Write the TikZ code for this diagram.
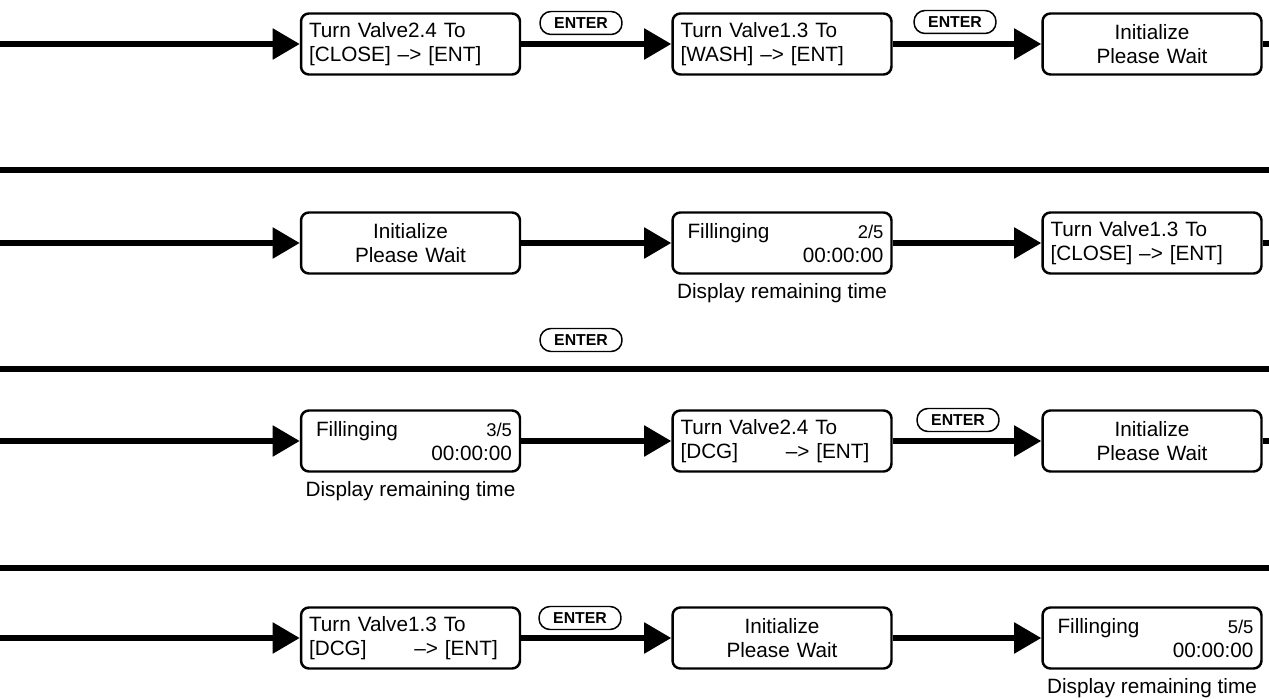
\documentclass[tikz,border=0pt]{standalone}
\usepackage{fontspec}
\setmainfont{Liberation Sans}
\usetikzlibrary{arrows.meta}

% two-line fill counter screen
\newcommand{\fillscr}[1]{\hspace*{0.14cm}Fillinging\hfill{\fontsize{10.5}{12}\selectfont #1}\hspace*{0.3cm}\\
  \hfill 00:00:00}

\begin{document}
\begin{tikzpicture}[x=0.02cm,y=-0.02cm,
  screen/.style={draw,line width=1.4pt,rounded corners=4.5pt,fill=white,
    minimum width=4.38cm,minimum height=1.22cm,text width=4.06cm,
    inner xsep=0.16cm,inner ysep=0pt,align=left,
    font=\fontsize{11.8}{13.8}\selectfont},
  midscreen/.style={screen,align=center},
  enterkey/.style={draw,line width=0.85pt,rounded corners=0.22cm,fill=white,
    minimum width=1.64cm,minimum height=0.46cm,inner sep=0pt,
    font=\bfseries\fontsize{9}{10}\selectfont},
  dispnote/.style={font=\fontsize{11.8}{14}\selectfont,inner sep=1pt,label distance=3.5pt},
  flowarrow/.style={line width=3.2pt,-{Triangle[length=15.4pt,width=17pt]}},
  flowline/.style={line width=3.2pt},
  sepline/.style={line width=3.2pt}]
  \useasboundingbox (0,0) rectangle (1269,699);
  % return lines between rows
  \foreach \y in {170,369,568}
    \draw[sepline] (0,\y) -- (1269,\y);
  % row 1
  \coordinate (in1) at (0,44);
  \coordinate (out1) at (1269,44);
  \node[screen] (r1a) at (410.5,44) {Turn Valve2.4 To\\{}[CLOSE] –> [ENT]};
  \node[screen] (r1b) at (782,44) {Turn Valve1.3 To\\{}[WASH] –> [ENT]};
  \node[midscreen] (r1c) at (1152,44) {Initialize\\Please Wait};
  \node[enterkey] (e1) at (581,23) {ENTER};
  \node[enterkey] (e2) at (955,22) {ENTER};
  \draw[flowarrow] (in1) -- (r1a);
  \draw[flowarrow] (r1a) -- (r1b);
  \draw[flowarrow] (r1b) -- (r1c);
  \draw[flowline] (r1c) -- (out1);
  % row 2
  \coordinate (in2) at (0,243);
  \coordinate (out2) at (1269,243);
  \node[midscreen] (r2a) at (410.5,243) {Initialize\\Please Wait};
  \node[screen,label={[dispnote]below:Display remaining time}] (r2b) at (782,243) {\fillscr{2/5}};
  \node[screen] (r2c) at (1152,243) {Turn Valve1.3 To\\{}[CLOSE] –> [ENT]};
  \node[enterkey] (e3) at (581,340) {ENTER};
  \draw[flowarrow] (in2) -- (r2a);
  \draw[flowarrow] (r2a) -- (r2b);
  \draw[flowarrow] (r2b) -- (r2c);
  \draw[flowline] (r2c) -- (out2);
  % row 3
  \coordinate (in3) at (0,441);
  \coordinate (out3) at (1269,441);
  \node[screen,label={[dispnote]below:Display remaining time}] (r3a) at (410.5,441) {\fillscr{3/5}};
  \node[screen] (r3b) at (782,441) {Turn Valve2.4 To\\{}[DCG]\hspace{2.3em}–> [ENT]};
  \node[midscreen] (r3c) at (1152,441) {Initialize\\Please Wait};
  \node[enterkey] (e4) at (958,420) {ENTER};
  \draw[flowarrow] (in3) -- (r3a);
  \draw[flowarrow] (r3a) -- (r3b);
  \draw[flowarrow] (r3b) -- (r3c);
  \draw[flowline] (r3c) -- (out3);
  % row 4
  \coordinate (in4) at (0,638);
  \node[screen] (r4a) at (410.5,638) {Turn Valve1.3 To\\{}[DCG]\hspace{2.3em}–> [ENT]};
  \node[midscreen] (r4b) at (782,638) {Initialize\\Please Wait};
  \node[screen,label={[dispnote]below:Display remaining time}] (r4c) at (1152,638) {\fillscr{5/5}};
  \node[enterkey] (e5) at (580,618) {ENTER};
  \draw[flowarrow] (in4) -- (r4a);
  \draw[flowarrow] (r4a) -- (r4b);
  \draw[flowarrow] (r4b) -- (r4c);
\end{tikzpicture}
\end{document}
